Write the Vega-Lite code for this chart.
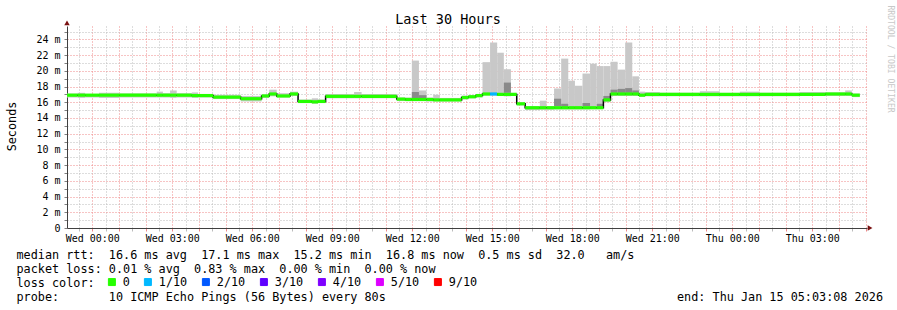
{
  "$schema": "https://vega.github.io/schema/vega-lite/v6.json",
  "width": 800,
  "height": 202,
  "autosize": {"type": "none"},
  "padding": {"left": 67, "top": 26, "right": 30, "bottom": 82},
  "background": "white",
  "config": {"view": {"stroke": null}, "font": "DejaVu Sans Mono"},
  "title": {"text": "Last 30 Hours", "font": "DejaVu Sans Mono", "fontSize": 13.5, "fontWeight": "normal", "color": "black", "anchor": "start", "align": "center", "dx": 442, "dy": 24, "offset": 3},
  "data": {"values": [
    {"t0":"2026-01-13T23:03:08Z","t1":"2026-01-13T23:27:00Z","med":16.9,"lo":16.6,"hi":17.1,"loss":"0"},
    {"t0":"2026-01-13T23:27:00Z","t1":"2026-01-13T23:44:00Z","med":16.9,"lo":16.55,"hi":17.2,"loss":"0"},
    {"t0":"2026-01-13T23:44:00Z","t1":"2026-01-14T00:15:00Z","med":16.9,"lo":16.6,"hi":17.05,"loss":"0"},
    {"t0":"2026-01-14T00:15:00Z","t1":"2026-01-14T01:02:00Z","med":16.9,"lo":16.55,"hi":17.2,"loss":"0"},
    {"t0":"2026-01-14T01:02:00Z","t1":"2026-01-14T02:25:00Z","med":16.9,"lo":16.6,"hi":17.1,"loss":"0"},
    {"t0":"2026-01-14T02:25:00Z","t1":"2026-01-14T02:39:00Z","med":16.9,"lo":16.6,"hi":17.35,"loss":"0"},
    {"t0":"2026-01-14T02:39:00Z","t1":"2026-01-14T02:55:00Z","med":16.9,"lo":16.6,"hi":17.15,"loss":"0"},
    {"t0":"2026-01-14T02:55:00Z","t1":"2026-01-14T03:10:00Z","med":16.9,"lo":16.55,"hi":17.5,"loss":"0"},
    {"t0":"2026-01-14T03:10:00Z","t1":"2026-01-14T03:44:00Z","med":16.9,"lo":16.6,"hi":17.15,"loss":"0"},
    {"t0":"2026-01-14T03:44:00Z","t1":"2026-01-14T03:58:00Z","med":16.85,"lo":16.55,"hi":17.25,"loss":"0"},
    {"t0":"2026-01-14T03:58:00Z","t1":"2026-01-14T04:32:00Z","med":16.85,"lo":16.6,"hi":17.05,"loss":"0"},
    {"t0":"2026-01-14T04:32:00Z","t1":"2026-01-14T05:34:00Z","med":16.65,"lo":16.4,"hi":16.95,"loss":"0"},
    {"t0":"2026-01-14T05:34:00Z","t1":"2026-01-14T06:21:00Z","med":16.45,"lo":16.1,"hi":16.8,"loss":"0"},
    {"t0":"2026-01-14T06:21:00Z","t1":"2026-01-14T06:38:00Z","med":16.8,"lo":16.55,"hi":17.0,"loss":"0"},
    {"t0":"2026-01-14T06:38:00Z","t1":"2026-01-14T06:55:00Z","med":17.05,"lo":16.75,"hi":17.6,"loss":"0"},
    {"t0":"2026-01-14T06:55:00Z","t1":"2026-01-14T07:25:00Z","med":16.8,"lo":16.6,"hi":17.15,"loss":"0"},
    {"t0":"2026-01-14T07:25:00Z","t1":"2026-01-14T07:43:00Z","med":17.05,"lo":16.8,"hi":17.35,"loss":"0"},
    {"t0":"2026-01-14T07:43:00Z","t1":"2026-01-14T08:14:00Z","med":16.1,"lo":15.9,"hi":16.35,"loss":"0"},
    {"t0":"2026-01-14T08:14:00Z","t1":"2026-01-14T08:28:00Z","med":16.05,"lo":15.8,"hi":16.5,"loss":"0"},
    {"t0":"2026-01-14T08:28:00Z","t1":"2026-01-14T08:45:00Z","med":16.1,"lo":15.9,"hi":16.35,"loss":"0"},
    {"t0":"2026-01-14T08:45:00Z","t1":"2026-01-14T09:49:00Z","med":16.75,"lo":16.5,"hi":17.05,"loss":"0"},
    {"t0":"2026-01-14T09:49:00Z","t1":"2026-01-14T10:06:00Z","med":16.75,"lo":16.5,"hi":17.3,"loss":"0"},
    {"t0":"2026-01-14T10:06:00Z","t1":"2026-01-14T11:25:00Z","med":16.75,"lo":16.5,"hi":17.05,"loss":"0"},
    {"t0":"2026-01-14T11:25:00Z","t1":"2026-01-14T11:44:00Z","med":16.4,"lo":16.15,"hi":16.6,"loss":"0"},
    {"t0":"2026-01-14T11:44:00Z","t1":"2026-01-14T11:59:00Z","med":16.35,"lo":16.15,"hi":16.6,"loss":"0"},
    {"t0":"2026-01-14T11:59:00Z","t1":"2026-01-14T12:15:00Z","med":16.35,"lo":16.15,"hi":21.3,"dlo":16.5,"dhi":17.3,"loss":"0"},
    {"t0":"2026-01-14T12:15:00Z","t1":"2026-01-14T12:32:00Z","med":16.35,"lo":16.15,"hi":17.5,"dlo":16.5,"dhi":16.9,"loss":"0"},
    {"t0":"2026-01-14T12:32:00Z","t1":"2026-01-14T12:47:00Z","med":16.35,"lo":16.1,"hi":16.6,"loss":"0"},
    {"t0":"2026-01-14T12:47:00Z","t1":"2026-01-14T13:02:00Z","med":16.3,"lo":16.1,"hi":16.95,"loss":"0"},
    {"t0":"2026-01-14T13:02:00Z","t1":"2026-01-14T13:51:00Z","med":16.3,"lo":16.1,"hi":16.55,"loss":"0"},
    {"t0":"2026-01-14T13:51:00Z","t1":"2026-01-14T14:06:00Z","med":16.6,"lo":16.35,"hi":16.85,"loss":"0"},
    {"t0":"2026-01-14T14:06:00Z","t1":"2026-01-14T14:23:00Z","med":16.7,"lo":16.5,"hi":16.9,"loss":"0"},
    {"t0":"2026-01-14T14:23:00Z","t1":"2026-01-14T14:38:00Z","med":16.85,"lo":16.6,"hi":17.05,"loss":"0"},
    {"t0":"2026-01-14T14:38:00Z","t1":"2026-01-14T14:55:00Z","med":17.05,"lo":16.85,"hi":21.1,"loss":"0"},
    {"t0":"2026-01-14T14:55:00Z","t1":"2026-01-14T15:11:00Z","med":17.05,"lo":16.85,"hi":23.6,"loss":"1/10"},
    {"t0":"2026-01-14T15:11:00Z","t1":"2026-01-14T15:26:00Z","med":17.0,"lo":16.8,"hi":22.3,"loss":"0"},
    {"t0":"2026-01-14T15:26:00Z","t1":"2026-01-14T15:42:00Z","med":17.0,"lo":16.75,"hi":20.2,"dlo":17.2,"dhi":18.5,"loss":"0"},
    {"t0":"2026-01-14T15:42:00Z","t1":"2026-01-14T15:55:00Z","med":17.0,"lo":16.8,"hi":17.2,"loss":"0"},
    {"t0":"2026-01-14T15:55:00Z","t1":"2026-01-14T16:14:00Z","med":15.8,"lo":15.6,"hi":15.95,"loss":"0"},
    {"t0":"2026-01-14T16:14:00Z","t1":"2026-01-14T16:47:00Z","med":15.3,"lo":15.0,"hi":15.5,"loss":"0"},
    {"t0":"2026-01-14T16:47:00Z","t1":"2026-01-14T17:02:00Z","med":15.3,"lo":15.05,"hi":16.2,"loss":"0"},
    {"t0":"2026-01-14T17:02:00Z","t1":"2026-01-14T17:19:00Z","med":15.3,"lo":15.05,"hi":15.5,"loss":"0"},
    {"t0":"2026-01-14T17:19:00Z","t1":"2026-01-14T17:35:00Z","med":15.3,"lo":15.1,"hi":17.75,"dlo":15.5,"dhi":16.45,"loss":"0"},
    {"t0":"2026-01-14T17:35:00Z","t1":"2026-01-14T17:51:00Z","med":15.3,"lo":15.1,"hi":21.55,"dlo":15.45,"dhi":15.8,"loss":"0"},
    {"t0":"2026-01-14T17:51:00Z","t1":"2026-01-14T18:06:00Z","med":15.3,"lo":15.1,"hi":18.75,"loss":"0"},
    {"t0":"2026-01-14T18:06:00Z","t1":"2026-01-14T18:23:00Z","med":15.3,"lo":15.1,"hi":18.1,"loss":"0"},
    {"t0":"2026-01-14T18:23:00Z","t1":"2026-01-14T18:40:00Z","med":15.3,"lo":15.1,"hi":19.65,"dlo":15.5,"dhi":15.9,"loss":"0"},
    {"t0":"2026-01-14T18:40:00Z","t1":"2026-01-14T18:55:00Z","med":15.3,"lo":15.15,"hi":20.9,"loss":"0"},
    {"t0":"2026-01-14T18:55:00Z","t1":"2026-01-14T19:10:00Z","med":15.3,"lo":15.15,"hi":20.6,"dlo":15.45,"dhi":15.8,"loss":"0"},
    {"t0":"2026-01-14T19:10:00Z","t1":"2026-01-14T19:26:00Z","med":16.3,"lo":16.0,"hi":20.6,"dlo":16.35,"dhi":16.8,"loss":"0"},
    {"t0":"2026-01-14T19:26:00Z","t1":"2026-01-14T19:42:00Z","med":17.05,"lo":16.8,"hi":21.15,"dlo":17.2,"dhi":17.6,"loss":"0"},
    {"t0":"2026-01-14T19:42:00Z","t1":"2026-01-14T19:59:00Z","med":17.05,"lo":16.8,"hi":20.15,"dlo":17.2,"dhi":17.7,"loss":"0"},
    {"t0":"2026-01-14T19:59:00Z","t1":"2026-01-14T20:15:00Z","med":17.05,"lo":16.8,"hi":23.6,"dlo":17.2,"dhi":17.8,"loss":"0"},
    {"t0":"2026-01-14T20:15:00Z","t1":"2026-01-14T20:30:00Z","med":17.05,"lo":16.8,"hi":19.3,"dlo":17.2,"dhi":17.5,"loss":"0"},
    {"t0":"2026-01-14T20:30:00Z","t1":"2026-01-14T20:44:00Z","med":16.9,"lo":16.7,"hi":17.35,"loss":"0"},
    {"t0":"2026-01-14T20:44:00Z","t1":"2026-01-14T21:17:00Z","med":17.0,"lo":16.75,"hi":17.3,"loss":"0"},
    {"t0":"2026-01-14T21:17:00Z","t1":"2026-01-14T22:47:00Z","med":17.0,"lo":16.75,"hi":17.2,"loss":"0"},
    {"t0":"2026-01-14T22:47:00Z","t1":"2026-01-14T23:32:00Z","med":17.0,"lo":16.75,"hi":17.4,"loss":"0"},
    {"t0":"2026-01-14T23:32:00Z","t1":"2026-01-15T00:17:00Z","med":17.0,"lo":16.75,"hi":17.2,"loss":"0"},
    {"t0":"2026-01-15T00:17:00Z","t1":"2026-01-15T01:02:00Z","med":17.0,"lo":16.75,"hi":17.35,"loss":"0"},
    {"t0":"2026-01-15T01:02:00Z","t1":"2026-01-15T02:32:00Z","med":17.0,"lo":16.75,"hi":17.2,"loss":"0"},
    {"t0":"2026-01-15T02:32:00Z","t1":"2026-01-15T03:29:00Z","med":17.0,"lo":16.8,"hi":17.3,"loss":"0"},
    {"t0":"2026-01-15T03:29:00Z","t1":"2026-01-15T04:14:00Z","med":17.05,"lo":16.8,"hi":17.25,"loss":"0"},
    {"t0":"2026-01-15T04:14:00Z","t1":"2026-01-15T04:29:00Z","med":17.05,"lo":16.8,"hi":17.5,"loss":"0"},
    {"t0":"2026-01-15T04:29:00Z","t1":"2026-01-15T04:47:00Z","med":16.9,"lo":16.65,"hi":17.1,"loss":"0"}
  ]},
  "layer": [
    {
      "mark": {"type": "rect", "color": "#c8c8c8"},
      "encoding": {
        "x": {"field": "t0", "type": "temporal",
          "scale": {"type": "utc", "domain": [1768345388000, 1768453388000]},
          "axis": {
            "title": [
              "median\u00a0rtt:\u00a0\u00a016.6\u00a0ms\u00a0avg\u00a0\u00a017.1\u00a0ms\u00a0max\u00a0\u00a015.2\u00a0ms\u00a0min\u00a0\u00a016.8\u00a0ms\u00a0now\u00a0\u00a00.5\u00a0ms\u00a0sd\u00a0\u00a032.0\u00a0\u00a0\u00a0am/s",
              "packet\u00a0loss:\u00a00.01\u00a0%\u00a0avg\u00a0\u00a00.83\u00a0%\u00a0max\u00a0\u00a00.00\u00a0%\u00a0min\u00a0\u00a00.00\u00a0%\u00a0now",
              "loss\u00a0color:",
              "probe:\u00a0\u00a0\u00a0\u00a0\u00a0\u00a0\u00a010\u00a0ICMP\u00a0Echo\u00a0Pings\u00a0(56\u00a0Bytes)\u00a0every\u00a080s\u00a0\u00a0\u00a0\u00a0\u00a0\u00a0\u00a0\u00a0\u00a0\u00a0\u00a0\u00a0\u00a0\u00a0\u00a0\u00a0\u00a0\u00a0\u00a0\u00a0\u00a0\u00a0\u00a0\u00a0\u00a0\u00a0\u00a0\u00a0\u00a0\u00a0\u00a0\u00a0\u00a0\u00a0\u00a0\u00a0\u00a0\u00a0\u00a0\u00a0\u00a0end:\u00a0Thu\u00a0Jan\u00a015\u00a005:03:08\u00a02026"
            ],
            "titleFont": "DejaVu Sans Mono", "titleFontSize": 11.8, "titleFontWeight": "normal", "titleColor": "black",
            "titleAlign": "left", "titleBaseline": "alphabetic", "titleX": -51, "titleY": 30, "titleLineHeight": 14.3,
            "tickCount": 60,
            "grid": true,
            "gridColor": {"condition": {"test": "utcminutes(datum.value) == 0", "value": "#ee8888"}, "value": "#bbbbbb"},
            "gridDash": [1, 2], "gridWidth": 1,
            "labelExpr": "utcminutes(datum.value) == 0 && utchours(datum.value) % 3 == 0 ? utcFormat(datum.value, '%a %H:%M') : ''",
            "labelFont": "DejaVu Sans Mono", "labelFontSize": 10, "labelColor": "black",
            "labelOverlap": false, "labelFlush": false, "labelBound": false, "labelPadding": 2,
            "ticks": true, "tickSize": 3,
            "tickColor": {"condition": {"test": "utcminutes(datum.value) == 0", "value": "#ee8888"}, "value": "#bbbbbb"},
            "domainColor": "#404040", "domainWidth": 1
          }
        },
        "x2": {"field": "t1"},
        "y": {"field": "lo", "type": "quantitative",
          "scale": {"domain": [0, 25.7], "nice": false, "zero": true},
          "axis": {
            "values": [0,1,2,3,4,5,6,7,8,9,10,11,12,13,14,15,16,17,18,19,20,21,22,23,24,25],
            "grid": true,
            "gridColor": {"condition": {"test": "datum.value % 2 == 0", "value": "#ee8888"}, "value": "#bbbbbb"},
            "gridDash": [1, 2], "gridWidth": 1,
            "labelExpr": "datum.value % 2 == 0 ? (datum.value == 0 ? '0' : datum.value + ' m') : ''",
            "labelFont": "DejaVu Sans Mono", "labelFontSize": 10, "labelColor": "black",
            "labelOverlap": false, "labelPadding": 4, "labelBound": false,
            "ticks": true, "tickSize": 3, "tickColor": "#808080",
            "domainColor": "#404040",
            "title": "Seconds", "titleFont": "DejaVu Sans Mono", "titleFontSize": 11.8, "titleFontWeight": "normal", "titleColor": "black",
            "titleAngle": -90, "titleAlign": "center", "titleBaseline": "middle", "titleX": -56, "titleY": 100
          }
        },
        "y2": {"field": "hi"}
      }
    },
    {
      "transform": [{"filter": "isValid(datum.dlo)"}],
      "mark": {"type": "rect", "color": "#8a8a8a"},
      "encoding": {
        "x": {"field": "t0", "type": "temporal"},
        "x2": {"field": "t1"},
        "y": {"field": "dlo", "type": "quantitative", "axis": null},
        "y2": {"field": "dhi"}
      }
    },
    {
      "mark": {"type": "line", "interpolate": "step-after", "color": "black", "strokeWidth": 1.5},
      "encoding": {
        "x": {"field": "t0", "type": "temporal"},
        "y": {"field": "med", "type": "quantitative",
          "axis": {"orient": "right", "domain": false, "ticks": false, "labels": false, "grid": false,
            "title": "RRDTOOL / TOBI OETIKER", "titleFont": "DejaVu Sans Mono", "titleFontSize": 8.1, "titleFontWeight": "normal", "titleColor": "#c8c8c8",
            "titleAngle": 90, "titleAlign": "left", "titleBaseline": "middle", "titleX": 22, "titleY": -21}
        }
      }
    },
    {
      "mark": {"type": "rule", "strokeWidth": 3.2, "strokeCap": "butt"},
      "encoding": {
        "x": {"field": "t0", "type": "temporal"},
        "x2": {"field": "t1"},
        "y": {"field": "med", "type": "quantitative", "axis": null},
        "color": {"field": "loss", "type": "nominal",
          "scale": {"domain": ["0", "1/10", "2/10", "3/10", "4/10", "5/10", "9/10"], "range": ["#26ff00", "#00b8ff", "#0059ff", "#5e00ff", "#7e00ff", "#dd00ff", "#ff0000"]},
          "legend": {"orient": "none", "legendX": 39, "legendY": 250, "direction": "horizontal", "title": null,
            "symbolType": "square", "symbolSize": 49, "symbolStrokeWidth": 1, "padding": 0,
            "labelFont": "DejaVu Sans Mono", "labelFontSize": 11.8, "labelColor": "black", "labelOffset": 5, "columnPadding": 12,
            "encode": {"symbols": {"update": {"fill": {"scale": "color", "field": "value"}, "stroke": {"value": "black"}, "strokeWidth": {"value": 1}, "opacity": {"value": 1}}}}
          }
        }
      }
    },
    {
      "data": {"values": [
        {"t0": "2026-01-13T23:03:08Z", "v": 26.1, "s": "triangle-up"},
        {"t0": "2026-01-15T05:10:00Z", "v": 0, "s": "triangle-right"}
      ]},
      "mark": {"type": "point", "filled": true, "clip": false, "color": "#7a1010", "size": 30, "opacity": 1},
      "encoding": {
        "x": {"field": "t0", "type": "temporal"},
        "y": {"field": "v", "type": "quantitative", "axis": null},
        "shape": {"field": "s", "type": "nominal", "scale": null, "legend": null}
      }
    }
  ],
  "resolve": {"axis": {"y": "independent"}}
}
